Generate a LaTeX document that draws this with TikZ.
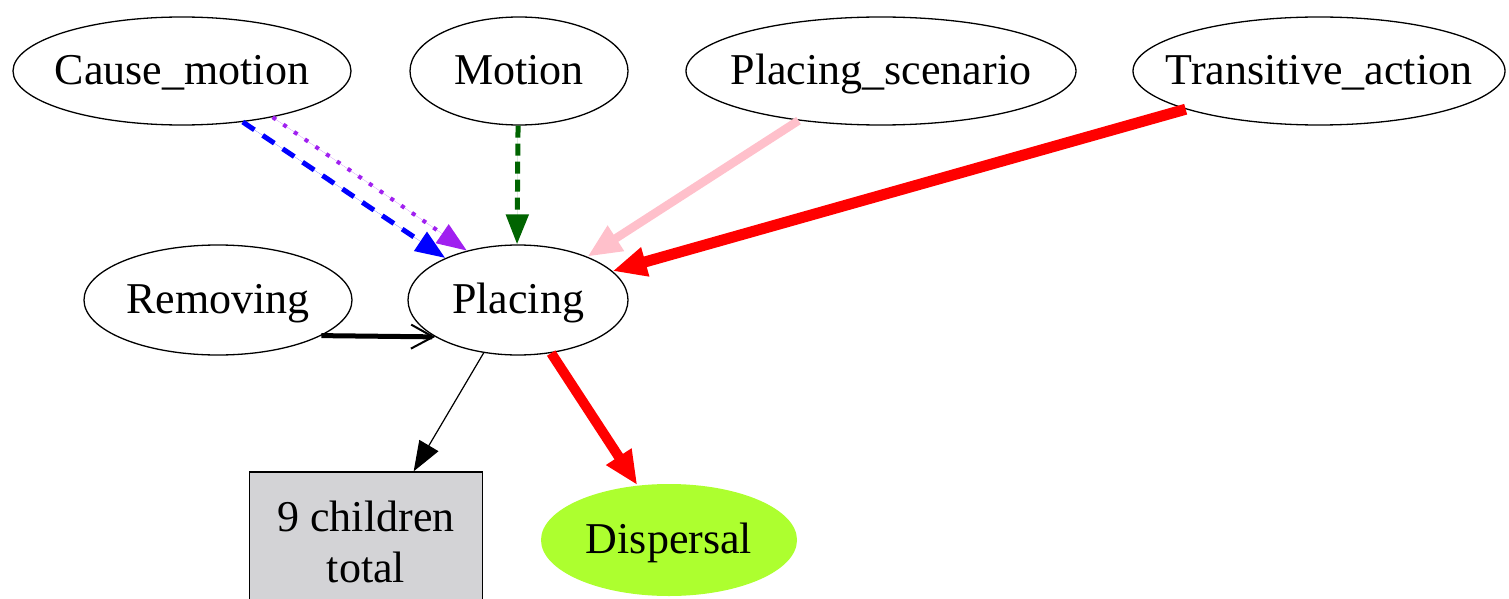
\documentclass[tikz,border=0pt]{standalone}
\usepackage{fontspec}
\setmainfont{Liberation Serif}
\usetikzlibrary{shapes.geometric,arrows.meta}
\definecolor{boxgray}{RGB}{211,211,214}
\definecolor{dispgreen}{RGB}{173,255,47}
\definecolor{dgreen}{RGB}{0,100,0}
\definecolor{purp}{RGB}{160,32,240}
\definecolor{pinkc}{RGB}{255,192,203}
\tikzset{
  frame/.style={draw, ellipse, line width=1.3pt, inner xsep=-40pt, inner ysep=-10pt, text height=34pt, text depth=7pt, font=\fontsize{44}{48}\selectfont},
  gbox/.style={draw, rectangle, line width=1.3pt, fill=boxgray, align=center, inner sep=0pt, font=\fontsize{44}{51}\selectfont},
  tri/.style={-{Triangle[length=30pt,width=22pt]}},
  bigtri/.style={-{Triangle[length=34pt,width=28pt]}},
}
\begin{document}
\begin{tikzpicture}[x=1pt,y=-1pt]
\useasboundingbox (0,0) rectangle (1509,599);
\node[frame, minimum width=338pt, minimum height=108pt] (cm) at (182,71) {Cause\_motion};
\node[frame, minimum width=218pt, minimum height=108pt] (mo) at (519,71) {Motion};
\node[frame, minimum width=390pt, minimum height=108pt] (ps) at (881,71) {Placing\_scenario};
\node[frame, minimum width=372pt, minimum height=108pt] (ta) at (1319,71) {Transitive\_action};
\node[frame, minimum width=268pt, minimum height=110pt] (rm) at (218,300) {Removing};
\node[frame, minimum width=220pt, minimum height=110pt] (pl) at (518,300) {Placing};
\node[gbox, minimum width=233pt, minimum height=140pt] (ch) at (366,542) {9 children\\total};
\node[frame, draw=none, fill=dispgreen, minimum width=256pt, minimum height=112pt] (di) at (669,540) {Dispersal};

\draw[tri, draw=blue, fill=blue, line width=5pt, dash pattern=on 14pt off 10pt] (cm.-40) -- (pl.150);
\draw[tri, draw=purp, fill=purp, line width=4pt, dash pattern=on 4pt off 9pt] (cm.-27) -- (pl.136.6);
\draw[tri, draw=dgreen, fill=dgreen, line width=5pt, dash pattern=on 12pt off 6pt] (mo.-91) -- (pl.91);
\draw[bigtri, draw=pinkc, fill=pinkc, line width=8.5pt] (ps.-149) -- (pl.32);
\draw[bigtri, draw=red, fill=red, line width=11pt] (ta.196) -- (pl.17.2);
\draw[-{Straight Barb[length=22pt,width=24pt,line width=2pt]}, line width=5pt] (rm.-19.8) -- (pl.204);
\draw[tri, fill=black, line width=1.2pt] (pl.-123) -- (ch.56);
\draw[bigtri, draw=red, fill=red, line width=10pt] (pl.-58.4) -- (di.120);
\end{tikzpicture}
\end{document}
